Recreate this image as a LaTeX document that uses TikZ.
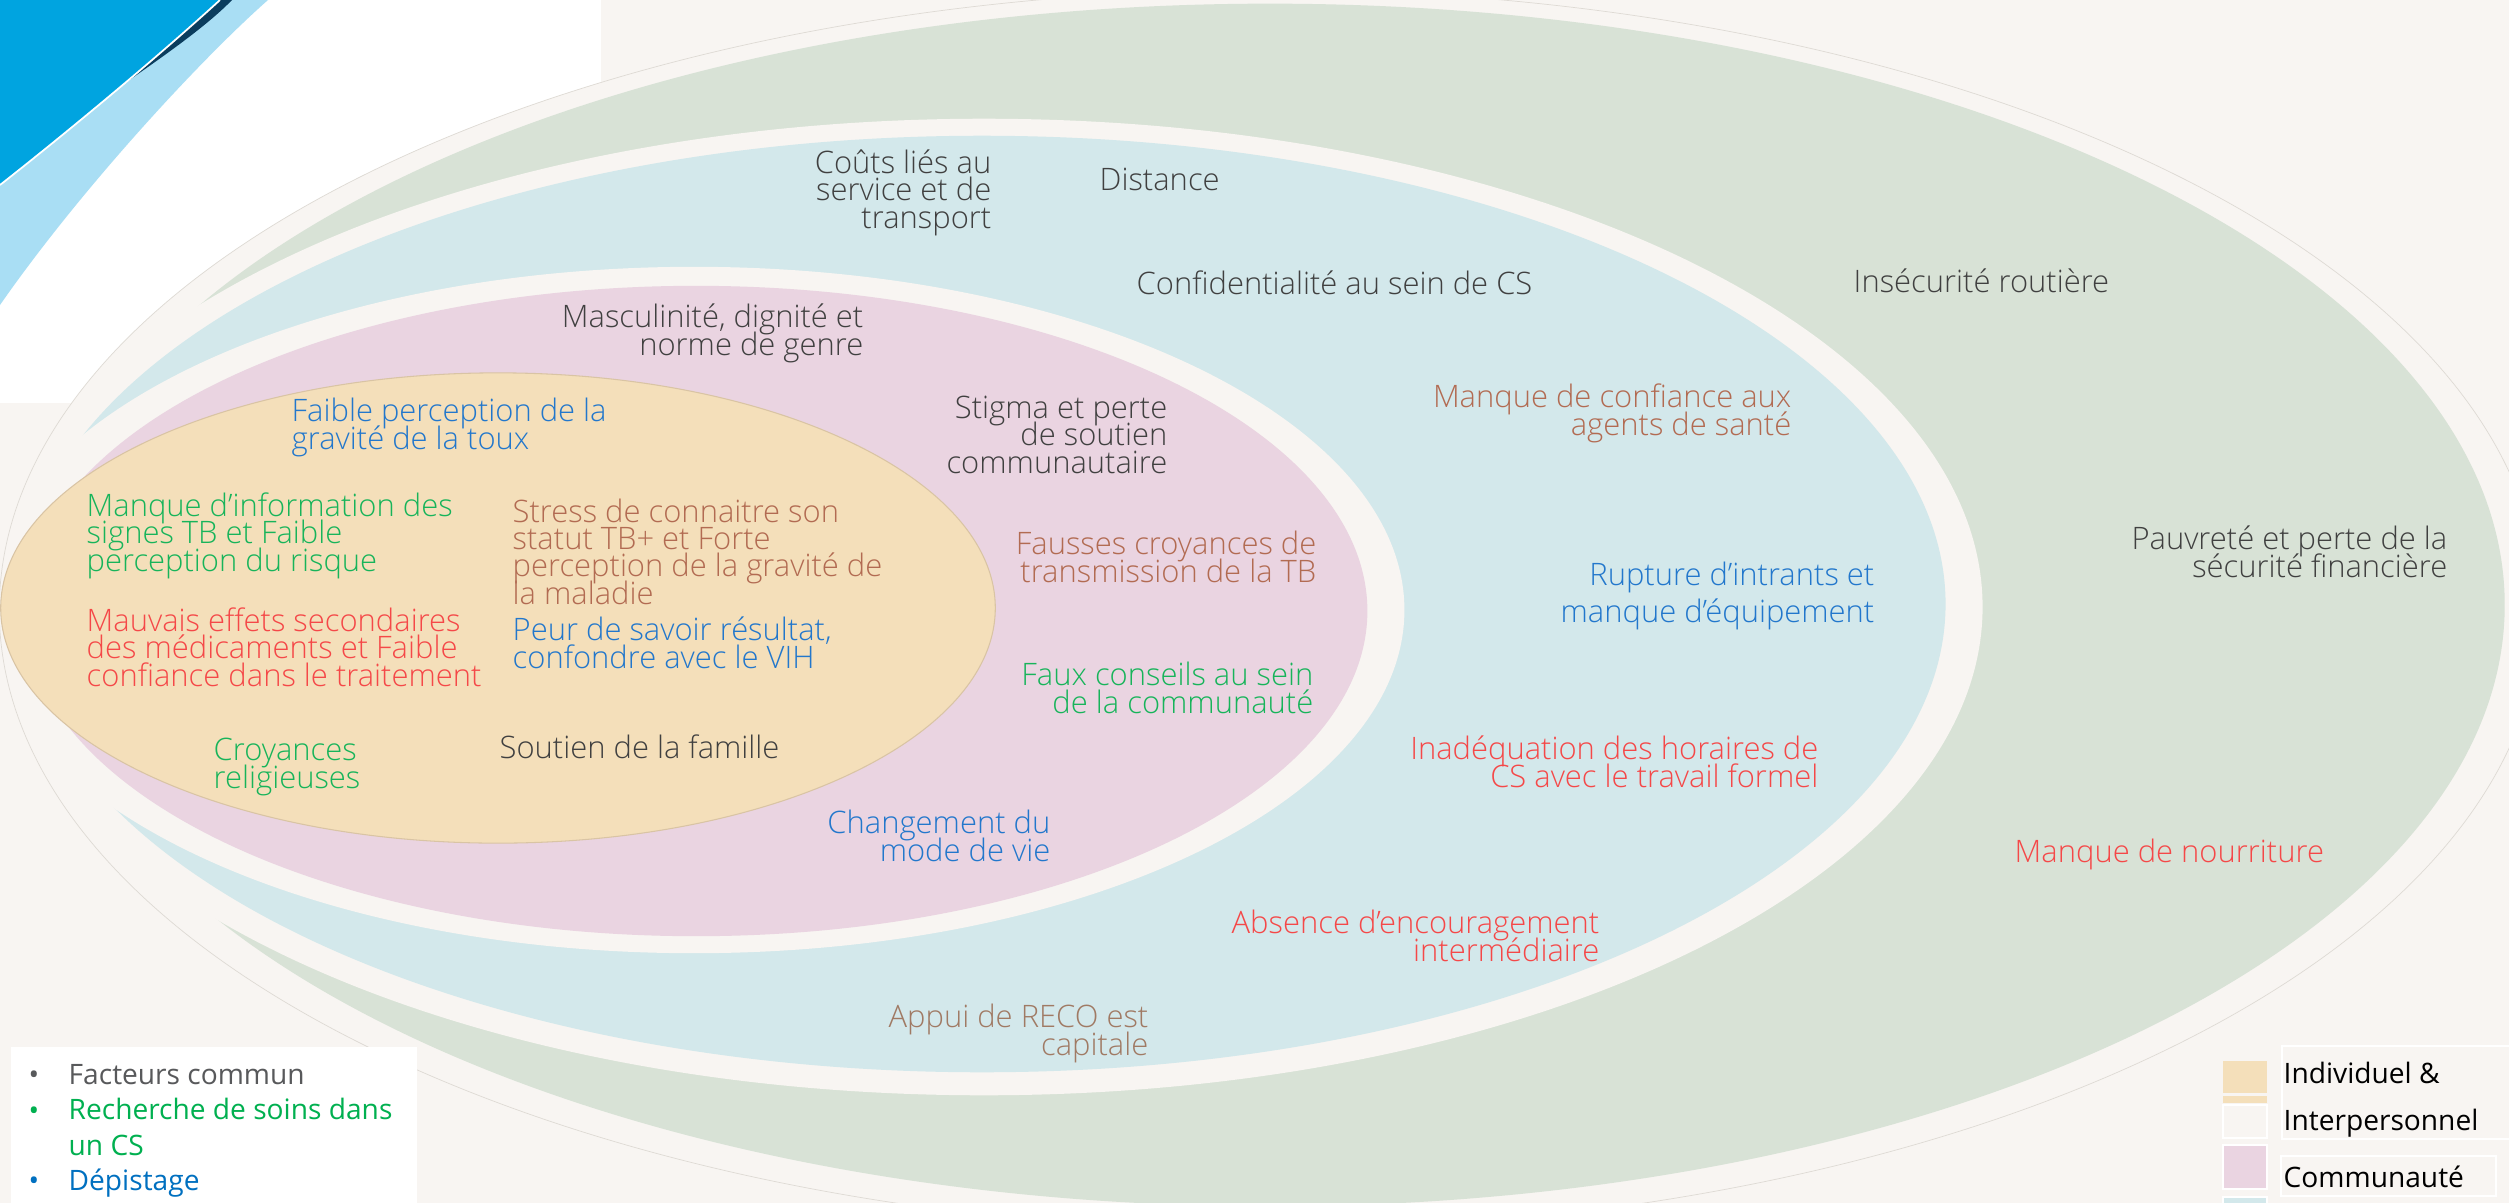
\documentclass[tikz,border=0pt]{standalone}
\usepackage{fontspec}
\setmainfont{Open Sans}
\IfFontExistsTF{Open Sans Light}{\newfontfamily\thinfont{Open Sans Light}}{\newfontfamily\thinfont{Open Sans}}
\newcommand\lblfont{\thinfont\fontsize{8.8}{7.7}\selectfont\lineskiplimit=-20pt\lineskip=0pt\relax}
\newcommand\keyfont{\fontsize{8}{10}\selectfont\lineskiplimit=-20pt\lineskip=0pt\relax}

\definecolor{paper}{HTML}{F8F5F2}
\definecolor{ringgreen}{HTML}{D8E2D6}
\definecolor{ringblue}{HTML}{D3E8EB}
\definecolor{ringpink}{HTML}{EAD4E1}
\definecolor{ringorange}{HTML}{F4DFBA}
\definecolor{orangeedge}{HTML}{D9C4A4}
\definecolor{outerline}{HTML}{DEDAD4}
\definecolor{swblue}{HTML}{00A4E0}
\definecolor{swlight}{HTML}{A9DEF4}
\definecolor{swnavy}{HTML}{0B3D5E}
\definecolor{tgrey}{HTML}{404040}
\definecolor{tblue}{HTML}{2277CC}
\definecolor{tgreen}{HTML}{17B45A}
\definecolor{tred}{HTML}{F54848}
\definecolor{tbrown}{HTML}{B26B52}
\definecolor{tbeige}{HTML}{A07A64}
\definecolor{kgrey}{HTML}{58595B}
\definecolor{kgreen}{HTML}{00B050}
\definecolor{kblue}{HTML}{0070C0}

\begin{document}
\begin{tikzpicture}[x=0.01cm, y=-0.01cm,
  lbl/.style={inner sep=0pt, font=\lblfont},
  lr/.style={lbl, align=right, anchor=base east},
  ll/.style={lbl, align=left, anchor=base west},
  keytxt/.style={inner sep=0pt, font=\keyfont, anchor=base west, align=left},
  swatch/.style={draw=white, line width=0.6pt},
  keyframe/.style={draw=white, line width=0.6pt}]

\useasboundingbox (0,0) rectangle (2509,1203);
\clip (0,0) rectangle (2509,1203);

% page ground and the white panel in the corner
\fill[paper] (0,0) rectangle (2509,1203);
\fill[white] (0,0) rectangle (601,403);

% nested rings, from the outside in
\fill[paper] (1270,610) ellipse [x radius=12.70cm, y radius=6.20cm];
\fill[ringgreen] (1270,605) ellipse [x radius=12.34cm, y radius=6.01cm];
\fill[paper] (984,607) ellipse [x radius=9.98cm, y radius=4.88cm];
\fill[ringblue] (982,604) ellipse [x radius=9.63cm, y radius=4.68cm];
\fill[paper] (694,610) ellipse [x radius=7.10cm, y radius=3.43cm];
\draw[outerline, line width=0.2pt] (1270,610) ellipse [x radius=12.70cm, y radius=6.20cm];
\fill[ringpink] (696,611) ellipse [x radius=6.71cm, y radius=3.25cm];
\fill[ringorange] (498,608) ellipse [x radius=4.97cm, y radius=2.35cm];
\draw[orangeedge, line width=0.3pt] (498,608) ellipse [x radius=4.97cm, y radius=2.35cm];

% corner swoosh
\fill[swlight] (0,0) -- (268,0) .. controls (200,60) and (80,190) .. (0,305) -- cycle;
\fill[swnavy] (0,0) -- (232,0) .. controls (205,28) and (155,62) .. (118,88) -- cycle;
\fill[swblue] (0,0) -- (220,0) .. controls (160,55) and (70,130) .. (0,185) -- cycle;
\draw[white, line width=0.5pt] (220,0) .. controls (160,55) and (70,130) .. (0,185);

% outer ring labels (y = baseline of the last line)
\node[ll, text=tgrey] (road) at (1853,292) {Insécurité routière};
\node[lr, text=tgrey] (poverty) at (2448,577) {Pauvreté et perte de la\\sécurité financière};
\node[ll, text=tred] (food) at (2014,862) {Manque de nourriture};

% health-system ring labels
\node[lr, text=tgrey] (costs) at (992,228) {Coûts liés au\\service et de\\transport};
\node[ll, text=tgrey] (distance) at (1099,190) {Distance};
\node[ll, text=tgrey] (confid) at (1136,294) {Confidentialité au sein de CS};
\node[lr, text=tbrown] (trust) at (1792,435) {Manque de confiance aux\\agents de santé};
\node[lr, text=tblue] (stock) at (1875,622) {Rupture d’intrants et\\[2.8pt]manque d’équipement};
\node[lr, text=tred] (hours) at (1819,787) {Inadéquation des horaires de\\CS avec le travail formel};
\node[lr, text=tred] (encour) at (1600,961) {Absence d’encouragement\\intermédiaire};
\node[lr, text=tbeige] (reco) at (1149,1055) {Appui de RECO est\\capitale};

% community ring labels
\node[lr, text=tgrey] (gender) at (864,355) {Masculinité, dignité et\\norme de genre};
\node[lr, text=tgrey] (stigma) at (1168,473) {Stigma et perte\\de soutien\\communautaire};
\node[lr, text=tbrown] (beliefs) at (1317,582) {Fausses croyances de\\transmission de la TB};
\node[lr, text=tgreen] (advice) at (1314,713) {Faux conseils au sein\\de la communauté};
\node[lr, text=tblue] (lifestyle) at (1051,861) {Changement du\\mode de vie};

% individual ring labels
\node[ll, text=tblue] (cough) at (291,449) {Faible perception de la\\gravité de la toux};
\node[ll, text=tgreen] (info) at (86,571) {Manque d’information des\\signes TB et Faible\\perception du risque};
\node[ll, text=tbrown] (stress) at (512,604) {Stress de connaitre son\\statut TB+ et Forte\\perception de la gravité de\\la maladie};
\node[ll, text=tred] (sidefx) at (86,686) {Mauvais effets secondaires\\des médicaments et Faible\\confiance dans le traitement};
\node[ll, text=tblue] (fear) at (512,668) {Peur de savoir résultat,\\confondre avec le VIH};
\node[ll, text=tgreen] (relig) at (213,788) {Croyances\\religieuses};
\node[ll, text=tgrey] (family) at (499,758) {Soutien de la famille};

% colour key, bottom left
\fill[white] (11,1047) rectangle (417,1215);
\node[keytxt, text=kgrey] (b1) at (28,1084) {•};
\node[keytxt, text=kgrey] (k1) at (68,1084) {Facteurs commun};
\node[keytxt, text=kgreen] (b2) at (28,1120) {•};
\node[keytxt, text=kgreen] (k2) at (68,1155) {Recherche de soins dans\\un CS};
\node[keytxt, text=kblue] (b3) at (28,1190) {•};
\node[keytxt, text=kblue] (k3) at (68,1190) {Dépistage};

% level key, bottom right
\fill[ringorange] (2223,1061) rectangle (2267,1093);
\fill[ringorange] (2223,1096) rectangle (2267,1103);
\draw[swatch, fill=paper] (2223,1105) rectangle (2267,1138);
\draw[swatch, fill=ringpink] (2223,1145) rectangle (2267,1189);
\draw[swatch, fill=ringblue] (2223,1197) rectangle (2267,1240);
\draw[keyframe] (2282,1046) rectangle (2520,1139);
\draw[keyframe] (2281,1156) rectangle (2496,1196);
\node[keytxt, text=black] (lv1) at (2283,1083) {Individuel \&};
\node[keytxt, text=black] (lv1b) at (2283,1130) {Interpersonnel};
\node[keytxt, text=black] (lv2) at (2283,1187) {Communauté};

\end{tikzpicture}
\end{document}
